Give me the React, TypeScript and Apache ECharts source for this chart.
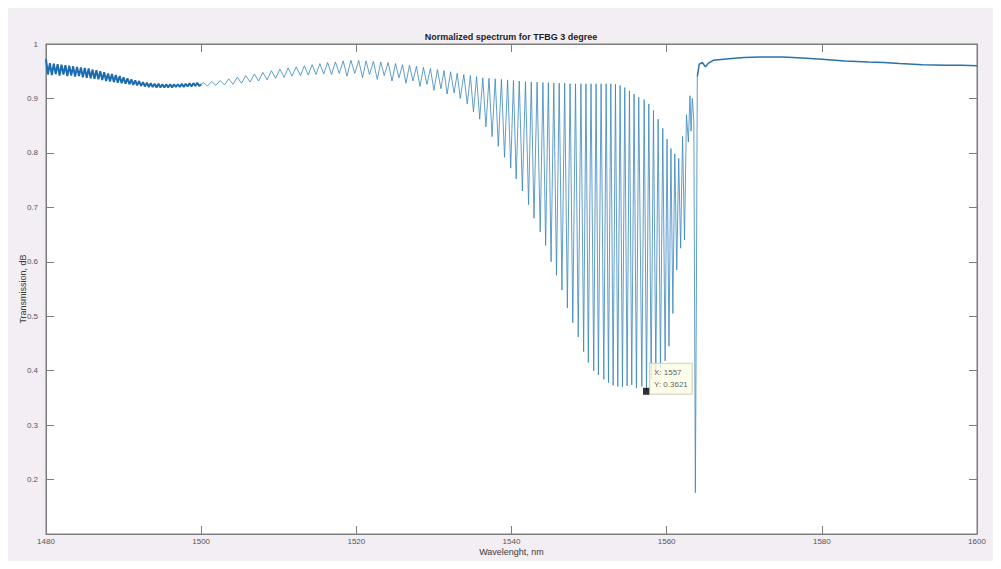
import { useEffect, useRef } from 'react';
import * as echarts from 'echarts';

const chartTitle = 'Normalized spectrum for TFBG 3 degree';
const xAxisName = 'Wavelenght, nm';
const yAxisName = 'Transmission, dB';
const xTicks = [1480, 1500, 1520, 1540, 1560, 1580, 1600];
const yTicks = [0.2, 0.3, 0.4, 0.5, 0.6, 0.7, 0.8, 0.9, 1];

// Noisy band at the start (upper / lower excursions)
const noiseWl = [
  1480.0, 1480.25, 1480.5, 1480.75, 1481.0, 1481.25, 1481.5, 1481.75, 1482.0, 1482.25,
  1482.5, 1482.75, 1483.0, 1483.25, 1483.5, 1483.75, 1484.0, 1484.25, 1484.5, 1484.75,
  1485.0, 1485.25, 1485.5, 1485.75, 1486.0, 1486.25, 1486.5, 1486.75, 1487.0, 1487.25,
  1487.5, 1487.75, 1488.0, 1488.25, 1488.5, 1488.75, 1489.0, 1489.25, 1489.5, 1489.75,
  1490.0, 1490.25, 1490.5, 1490.75, 1491.0, 1491.25, 1491.5, 1491.75, 1492.0, 1492.25,
  1492.5, 1492.75, 1493.0, 1493.25, 1493.5, 1493.75, 1494.0, 1494.25, 1494.5, 1494.75,
  1495.0, 1495.25, 1495.5, 1495.75, 1496.0, 1496.25, 1496.5, 1496.75, 1497.0, 1497.25,
  1497.5, 1497.75, 1498.0, 1498.25, 1498.5, 1498.75, 1499.0, 1499.25, 1499.5, 1499.75,
  1500.0,
];
const noiseT = [
  0.972, 0.944, 0.965, 0.943, 0.964, 0.945, 0.963, 0.942, 0.962, 0.944,
  0.961, 0.941, 0.960, 0.942, 0.959, 0.940, 0.958, 0.941, 0.957, 0.939,
  0.956, 0.938, 0.955, 0.937, 0.953, 0.936, 0.952, 0.935, 0.950, 0.934,
  0.948, 0.932, 0.946, 0.931, 0.945, 0.930, 0.943, 0.929, 0.941, 0.928,
  0.939, 0.927, 0.937, 0.926, 0.935, 0.925, 0.933, 0.924, 0.932, 0.923,
  0.930, 0.922, 0.929, 0.921, 0.928, 0.921, 0.927, 0.920, 0.927, 0.920,
  0.926, 0.920, 0.926, 0.920, 0.926, 0.920, 0.926, 0.921, 0.926, 0.921,
  0.927, 0.921, 0.927, 0.922, 0.928, 0.922, 0.928, 0.923, 0.929, 0.923,
  0.926,
];

// Cladding-mode resonances: trough positions and depths
const troughWl = [
  1500.8, 1501.9, 1503.0, 1504.1, 1505.2, 1506.3, 1507.4, 1508.5, 1509.6, 1510.7,
  1511.7, 1512.8, 1513.8, 1514.8, 1515.8, 1516.8, 1517.8, 1518.8, 1519.8, 1520.8,
  1521.7, 1522.7, 1523.6, 1524.6, 1525.5, 1526.4, 1527.3, 1528.2, 1529.1, 1530.0,
  1530.9, 1531.7, 1532.6, 1533.4, 1534.3, 1535.1, 1535.9, 1536.7, 1537.5, 1538.3,
  1539.1, 1539.9, 1540.6, 1541.4, 1542.2, 1542.9, 1543.7, 1544.4, 1545.1, 1545.8,
  1546.5, 1547.2, 1547.9, 1548.6, 1549.3, 1549.9, 1550.6, 1551.2, 1551.9, 1552.5,
  1553.1, 1553.7, 1554.3, 1554.9, 1555.5, 1556.1, 1556.8, 1557.4, 1558.0, 1558.6,
  1559.2, 1559.8, 1560.3, 1560.8, 1561.3, 1561.8, 1562.3, 1562.8, 1563.15,
];
const troughT = [
  0.923, 0.924, 0.925, 0.926, 0.928, 0.930, 0.932, 0.934, 0.937, 0.939,
  0.941, 0.942, 0.943, 0.944, 0.945, 0.944, 0.946, 0.941, 0.946, 0.938,
  0.944, 0.935, 0.942, 0.932, 0.938, 0.928, 0.932, 0.922, 0.926, 0.915,
  0.918, 0.908, 0.910, 0.900, 0.890, 0.875, 0.862, 0.848, 0.830, 0.812,
  0.792, 0.772, 0.752, 0.730, 0.705, 0.680, 0.655, 0.630, 0.600, 0.575,
  0.548, 0.515, 0.488, 0.462, 0.435, 0.415, 0.400, 0.392, 0.384, 0.378,
  0.373, 0.371, 0.370, 0.372, 0.374, 0.368, 0.371, 0.3621, 0.385, 0.395,
  0.405, 0.418, 0.445, 0.505, 0.585, 0.625, 0.640, 0.820, 0.840,
];

// Maxima between the resonances
const peakWl = [
  1500.3, 1501.35, 1502.45, 1503.55, 1504.65, 1505.75, 1506.85, 1507.95, 1509.05, 1510.15,
  1511.2, 1512.25, 1513.3, 1514.3, 1515.3, 1516.3, 1517.3, 1518.3, 1519.3, 1520.3,
  1521.25, 1522.2, 1523.15, 1524.1, 1525.05, 1525.95, 1526.85, 1527.75, 1528.65, 1529.55,
  1530.45, 1531.3, 1532.15, 1533.0, 1533.85, 1534.7, 1535.5, 1536.3, 1537.1, 1537.9,
  1538.7, 1539.5, 1540.25, 1541.0, 1541.8, 1542.55, 1543.3, 1544.05, 1544.75, 1545.45,
  1546.15, 1546.85, 1547.55, 1548.25, 1548.95, 1549.6, 1550.25, 1550.9, 1551.55, 1552.2,
  1552.8, 1553.4, 1554.0, 1554.6, 1555.2, 1555.8, 1556.4, 1557.1, 1557.7, 1558.3,
  1558.9, 1559.5, 1560.05, 1560.55, 1561.05, 1561.55, 1562.05, 1562.55, 1563.0, 1563.3,
];
const peakT = [
  0.929, 0.931, 0.933, 0.936, 0.939, 0.942, 0.945, 0.948, 0.951, 0.954,
  0.956, 0.958, 0.960, 0.962, 0.964, 0.966, 0.967, 0.969, 0.970, 0.970,
  0.969, 0.968, 0.967, 0.966, 0.964, 0.962, 0.961, 0.959, 0.957, 0.955,
  0.953, 0.951, 0.949, 0.946, 0.944, 0.942, 0.940, 0.938, 0.937, 0.936,
  0.935, 0.934, 0.933, 0.932, 0.931, 0.930, 0.930, 0.929, 0.929, 0.928,
  0.928, 0.928, 0.927, 0.927, 0.927, 0.927, 0.927, 0.927, 0.927, 0.927,
  0.927, 0.926, 0.924, 0.920, 0.914, 0.908, 0.902, 0.898, 0.890, 0.878,
  0.862, 0.845, 0.825, 0.808, 0.798, 0.790, 0.830, 0.870, 0.905, 0.900,
];

// Bragg resonance and the flat region after it
const braggWl = [1563.5, 1563.7, 1563.85];
const braggT = [0.860, 0.176, 0.600];
const tailWl = [
  1563.95, 1564.2, 1564.6, 1565.0, 1565.4, 1566.0, 1568.0,
  1570.0, 1572.0, 1575.0, 1578.0, 1580.0, 1583.0, 1586.0, 1588.0, 1590.0, 1593.0,
  1596.0, 1598.0, 1600.0,
];
const tailT = [
  0.940, 0.963, 0.966, 0.958, 0.965, 0.970, 0.973,
  0.975, 0.976, 0.976, 0.974, 0.972, 0.969, 0.967, 0.966, 0.964, 0.962,
  0.961, 0.961, 0.960,
];

const tipWl = 1557.4;
const tipT = 0.3621;
const tipLabel = ['X: 1557', 'Y: 0.3621'];

const FONT = '"Liberation Sans", Arial, Helvetica, sans-serif';
const AXIS_COLOR = '#7d7d7d';

const zip = (w: number[], t: number[]) => w.map((x, i) => [x, t[i]] as [number, number]);

export default function App() {
  const ref = useRef<HTMLDivElement>(null);

  useEffect(() => {
    if (!ref.current) return;
    const chart = echarts.init(ref.current, null, { renderer: 'svg' });

    const noisePts = zip(noiseWl, noiseT);
    const oscPts = [
      [noiseWl[noiseWl.length - 1], noiseT[noiseT.length - 1]] as [number, number],
      ...zip(troughWl, troughT),
      ...zip(peakWl, peakT),
      ...zip(braggWl, braggT),
      [tailWl[0], tailT[0]] as [number, number],
    ].sort((a, b) => a[0] - b[0]);
    const tailPts = zip(tailWl, tailT);

    const yFmt = (v: number) => {
      const r = Math.round(v * 10) / 10;
      return yTicks.includes(r) ? String(r) : '';
    };
    const xFmt = (v: number) => (xTicks.includes(v) ? String(v) : '');

    const tick = { show: true, inside: true, length: 8, lineStyle: { color: AXIS_COLOR } };
    const line = { show: true, lineStyle: { color: AXIS_COLOR } };

    chart.setOption({
      animation: false,
      backgroundColor: '#f3eef3',
      textStyle: { fontFamily: FONT },
      grid: {
        left: 38,
        right: 16,
        top: 36,
        bottom: 27,
        containLabel: false,
        outerBoundsMode: 'none',
        show: true,
        backgroundColor: '#ffffff',
        borderColor: AXIS_COLOR,
        borderWidth: 1,
      },
      graphic: [
        {
          type: 'text',
          x: 503,
          y: 24,
          style: {
            text: chartTitle,
            fill: '#1e1e1e',
            font: `bold 9px ${FONT}`,
            textAlign: 'center',
          },
        },
      ],
      xAxis: [
        {
          type: 'value',
          min: 1480,
          max: 1600,
          interval: 20,
          name: xAxisName,
          nameLocation: 'middle',
          nameGap: 13,
          nameMoveOverlap: false,
          nameTextStyle: { fontSize: 9, color: '#3a3a3a', fontFamily: FONT },
          axisLine: line,
          axisTick: tick,
          axisLabel: { fontSize: 8, color: '#555', margin: 3, formatter: xFmt, fontFamily: FONT },
          splitLine: { show: false },
        },
        {
          type: 'value',
          position: 'top',
          min: 1480,
          max: 1600,
          interval: 20,
          axisLine: line,
          axisTick: tick,
          axisLabel: { show: false },
          splitLine: { show: false },
        },
      ],
      yAxis: [
        {
          type: 'value',
          min: 0.1,
          max: 1,
          interval: 0.1,
          name: yAxisName,
          nameLocation: 'middle',
          nameGap: 19,
          nameRotate: 90,
          nameMoveOverlap: false,
          nameTextStyle: { fontSize: 9, color: '#3a3a3a', fontFamily: FONT },
          axisLine: line,
          axisTick: tick,
          axisLabel: { fontSize: 8, color: '#555', margin: 8, formatter: yFmt, fontFamily: FONT },
          splitLine: { show: false },
        },
        {
          type: 'value',
          position: 'right',
          min: 0.1,
          max: 1,
          interval: 0.1,
          axisLine: line,
          axisTick: tick,
          axisLabel: { show: false },
          splitLine: { show: false },
        },
      ],
      series: [
        {
          type: 'line',
          data: noisePts,
          showSymbol: false,
          symbol: 'none',
          lineStyle: { color: '#1c6cae', width: 2 },
          silent: true,
          z: 2,
        },
        {
          type: 'line',
          data: oscPts,
          showSymbol: false,
          symbol: 'none',
          lineStyle: { color: '#3a86bd', width: 1, opacity: 0.8 },
          silent: true,
          z: 2,
        },
        {
          type: 'line',
          data: tailPts,
          showSymbol: false,
          symbol: 'none',
          lineStyle: { color: '#2a72a8', width: 1.5 },
          silent: true,
          z: 2,
        },
        {
          type: 'scatter',
          data: [[tipWl, tipT]],
          symbol: 'rect',
          symbolSize: 7,
          itemStyle: { color: '#000000' },
          silent: true,
          z: 5,
          label: {
            show: true,
            position: [7, -24],
            formatter: tipLabel.join('\n'),
            fontSize: 8,
            lineHeight: 12,
            color: '#333',
            fontFamily: FONT,
            backgroundColor: '#fdfde6',
            borderColor: '#c9c9b0',
            borderWidth: 1,
            padding: [3, 4, 3, 4],
          },
        },
      ],
    });

    return () => chart.dispose();
  }, []);

  return <div ref={ref} style={{ width: 985, height: 553 }} />;
}
